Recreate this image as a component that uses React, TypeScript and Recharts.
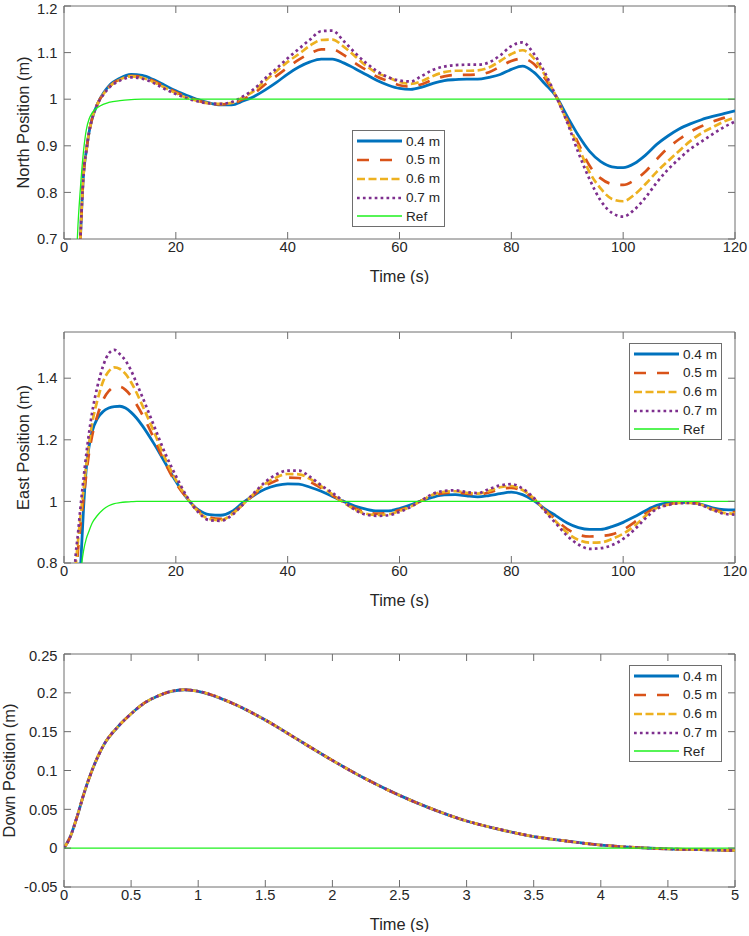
import React from 'react';
import { LineChart, Line, XAxis, YAxis, Legend, ReferenceArea } from 'recharts';

// ---- North position (top panel), time in s ----
const northTime = [
  0, 1, 2, 2.5, 3, 3.5, 4, 4.5, 5, 6, 7, 8,
  10, 12, 14, 16, 18, 20, 22, 24, 26, 28, 30, 32,
  34, 36, 38, 40, 42, 44, 46, 48, 50, 52, 54, 56,
  58, 60, 62, 64, 66, 68, 70, 72, 74, 76, 78, 80,
  82, 84, 86, 88, 90, 92, 94, 96, 98, 100, 102, 104,
  106, 108, 110, 112, 114, 116, 118, 120,
];
const north04 = [
  0, 0.1, 0.4, 0.56, 0.72, 0.84, 0.89, 0.93, 0.957, 0.99, 1.012, 1.028,
  1.045, 1.053, 1.051, 1.042, 1.03, 1.018, 1.008, 0.999, 0.992, 0.988, 0.988, 0.996,
  1.006, 1.02, 1.036, 1.054, 1.069, 1.08, 1.086, 1.086, 1.078, 1.066, 1.053, 1.04,
  1.03, 1.023, 1.021, 1.026, 1.034, 1.04, 1.042, 1.043, 1.043, 1.047, 1.053, 1.064,
  1.071, 1.058, 1.033, 1.006, 0.963, 0.922, 0.888, 0.866, 0.855, 0.853, 0.862, 0.88,
  0.903, 0.921, 0.936, 0.947, 0.956, 0.963, 0.969, 0.975,
];
const north05 = [
  0, 0.1, 0.4, 0.56, 0.72, 0.84, 0.89, 0.93, 0.957, 0.99, 1.011, 1.026,
  1.043, 1.05, 1.048, 1.039, 1.027, 1.015, 1.005, 0.997, 0.991, 0.989, 0.99, 1.0,
  1.013, 1.032, 1.05, 1.068, 1.085, 1.098, 1.107, 1.107, 1.095, 1.078, 1.063, 1.048,
  1.039, 1.03, 1.027, 1.032, 1.042, 1.049, 1.052, 1.052, 1.053, 1.058, 1.07, 1.082,
  1.087, 1.076, 1.045, 1.006, 0.956, 0.905, 0.857, 0.83, 0.818, 0.816, 0.826, 0.845,
  0.871, 0.895, 0.914, 0.93, 0.942, 0.952, 0.96, 0.967,
];
const north06 = [
  0, 0.1, 0.4, 0.56, 0.72, 0.84, 0.89, 0.93, 0.957, 0.99, 1.01, 1.025,
  1.042, 1.049, 1.046, 1.037, 1.025, 1.013, 1.003, 0.996, 0.991, 0.99, 0.992, 1.004,
  1.018, 1.04, 1.06, 1.08, 1.097, 1.115, 1.127, 1.128, 1.113, 1.093, 1.072, 1.056,
  1.047, 1.037, 1.033, 1.039, 1.05, 1.058, 1.061, 1.061, 1.062, 1.068, 1.082, 1.097,
  1.105, 1.088, 1.052, 1.006, 0.952, 0.898, 0.843, 0.808, 0.786, 0.781, 0.795, 0.818,
  0.844, 0.867, 0.889, 0.91, 0.927, 0.94, 0.952, 0.961,
];
const north07 = [
  0, 0.1, 0.4, 0.56, 0.72, 0.84, 0.89, 0.93, 0.957, 0.99, 1.009, 1.024,
  1.04, 1.047, 1.044, 1.035, 1.022, 1.011, 1.002, 0.995, 0.991, 0.99, 0.994, 1.006,
  1.022, 1.045, 1.066, 1.088, 1.108, 1.128, 1.146, 1.147, 1.125, 1.1, 1.078, 1.06,
  1.047, 1.04, 1.038, 1.05, 1.063, 1.07, 1.073, 1.074, 1.074, 1.079, 1.094, 1.114,
  1.122, 1.098, 1.057, 1.006, 0.95, 0.885, 0.828, 0.782, 0.756, 0.748, 0.763, 0.789,
  0.821, 0.849, 0.872, 0.893, 0.909, 0.925, 0.94, 0.952,
];
const northRefTime = [0, 1, 2, 2.5, 3, 3.5, 4, 4.5, 5, 6, 7, 8, 10, 12, 14, 120];
const northRef = [0, 0.25, 0.6, 0.73, 0.82, 0.89, 0.935, 0.958, 0.97, 0.982, 0.989, 0.993, 0.997, 0.999, 1, 1];

// ---- East position (middle panel) ----
const eastTime = [
  0, 1, 2, 2.5, 3, 3.5, 4, 4.5, 5,
  6, 7, 8, 9, 10, 11, 12, 13, 14,
  16, 18, 20, 22, 24, 26, 28, 30, 32, 34, 36, 38,
  40, 42, 44, 46, 48, 50, 52, 54, 56, 58, 60, 62,
  64, 66, 68, 70, 72, 74, 76, 78, 80, 82, 84, 86,
  88, 90, 92, 94, 96, 98, 100, 102, 104, 106, 108, 110,
  112, 114, 116, 118, 120,
];
const east04 = [
  0, 0.15, 0.5, 0.65, 0.8, 0.98, 1.11, 1.18, 1.225,
  1.27, 1.292, 1.303, 1.308, 1.309, 1.303, 1.289, 1.27, 1.246,
  1.19, 1.128, 1.065, 1.01, 0.973, 0.957, 0.955, 0.967, 0.996, 1.02, 1.04, 1.052,
  1.057, 1.056, 1.046, 1.033, 1.016, 1.0, 0.985, 0.975, 0.969, 0.969, 0.977, 0.989,
  1.003, 1.014, 1.021, 1.022, 1.018, 1.015, 1.019, 1.025, 1.03, 1.022, 1.003, 0.976,
  0.953, 0.93, 0.915, 0.909, 0.909, 0.918, 0.932, 0.95, 0.97, 0.987, 0.995, 0.997,
  0.996, 0.99, 0.979, 0.973, 0.972,
];
const east05 = [
  0, 0.18, 0.7, 0.84, 0.93, 1.01, 1.09, 1.16, 1.21,
  1.28, 1.33, 1.358, 1.371, 1.372, 1.362, 1.342, 1.314, 1.282,
  1.208, 1.128, 1.06, 1.01, 0.97, 0.948, 0.943, 0.96, 0.99, 1.022, 1.05, 1.068,
  1.077, 1.076, 1.063, 1.043, 1.02, 0.997, 0.978, 0.965, 0.96, 0.962, 0.972, 0.985,
  1.003, 1.019, 1.027, 1.029, 1.025, 1.022, 1.029, 1.04, 1.044, 1.033, 1.008, 0.972,
  0.94, 0.91, 0.892, 0.886, 0.888, 0.893, 0.908, 0.932, 0.96, 0.982, 0.99, 0.996,
  0.996, 0.99, 0.975, 0.967, 0.965,
];
const east06 = [
  0, 0.19, 0.76, 0.87, 0.96, 1.04, 1.12, 1.19, 1.25,
  1.33, 1.39, 1.422, 1.435, 1.43, 1.414, 1.387, 1.352, 1.312,
  1.23, 1.143, 1.07, 1.012, 0.967, 0.943, 0.939, 0.958, 0.99, 1.025, 1.057, 1.078,
  1.089, 1.088, 1.073, 1.049, 1.023, 0.996, 0.974, 0.96, 0.956, 0.958, 0.969, 0.983,
  1.003, 1.022, 1.031, 1.033, 1.028, 1.025, 1.034, 1.046, 1.05, 1.037, 1.01, 0.97,
  0.934, 0.898, 0.875, 0.866, 0.867, 0.878, 0.895, 0.92, 0.953, 0.979, 0.989, 0.995,
  0.995, 0.989, 0.973, 0.963, 0.96,
];
const east07 = [
  0, 0.2, 0.8, 0.895, 0.99, 1.075, 1.155, 1.225, 1.285,
  1.375, 1.44, 1.48, 1.492, 1.478, 1.457, 1.425, 1.383, 1.34,
  1.25, 1.16, 1.083, 1.015, 0.965, 0.939, 0.937, 0.955, 0.99, 1.028, 1.063, 1.088,
  1.1, 1.1, 1.08, 1.052, 1.028, 1.0, 0.973, 0.957, 0.953, 0.955, 0.966, 0.982,
  1.004, 1.025, 1.034, 1.036, 1.03, 1.027, 1.04, 1.052, 1.056, 1.042, 1.012, 0.968,
  0.928, 0.888, 0.86, 0.846, 0.848, 0.858, 0.878, 0.908, 0.945, 0.976, 0.988, 0.994,
  0.995, 0.988, 0.972, 0.96, 0.957,
];
const eastRefTime = [0, 1, 2, 2.5, 3, 3.5, 4, 4.5, 5, 6, 7, 8, 9, 10, 11, 12, 13, 120];
const eastRef = [0, 0.2, 0.5, 0.65, 0.77, 0.84, 0.88, 0.905, 0.928, 0.955, 0.974, 0.986, 0.993, 0.996, 0.998, 0.999, 1, 1];

// ---- Down position (bottom panel), all four runs coincide ----
const downTime = [
  0, 0.05, 0.1, 0.15, 0.2, 0.25, 0.3, 0.4, 0.5, 0.6, 0.7, 0.8, 0.9, 1,
  1.25, 1.5, 1.75, 2, 2.25, 2.5, 2.75, 3, 3.25, 3.5, 3.75, 4, 4.25, 4.5, 4.75, 5,
];
const downPos = [
  0, 0.016, 0.042, 0.071, 0.096, 0.117, 0.134, 0.156, 0.173, 0.187, 0.196, 0.202, 0.204, 0.202,
  0.187, 0.165, 0.139, 0.113, 0.089, 0.068, 0.05, 0.035, 0.024, 0.015, 0.009, 0.004, 0.001, -0.001, -0.002, -0.003,
];
const downRefTime = [0, 5];
const downRef = [0, 0];

// axis ticks
const timeTicks = [0, 20, 40, 60, 80, 100, 120];
const downTimeTicks = [0, 0.5, 1, 1.5, 2, 2.5, 3, 3.5, 4, 4.5, 5];
const northTicks = [0.7, 0.8, 0.9, 1, 1.1, 1.2];
const eastTicks = [0.8, 1, 1.2, 1.4];
const downTicks = [-0.05, 0, 0.05, 0.1, 0.15, 0.2, 0.25];

const SERIES = [
  { key: 's04', name: '0.4 m', color: '#0072BD', width: 2.8, dash: undefined as string | undefined },
  { key: 's05', name: '0.5 m', color: '#D95319', width: 2.7, dash: '12 11' },
  { key: 's06', name: '0.6 m', color: '#EDB120', width: 2.7, dash: '8 3.5' },
  { key: 's07', name: '0.7 m', color: '#7E2F8E', width: 2.7, dash: '2.7 3.2' },
];
const REF = { key: 'ref', name: 'Ref', color: '#1EF01E', width: 1.3, dash: undefined as string | undefined };

const FONT = '"Liberation Sans", Arial, Helvetica, sans-serif';
const TEXT = '#262626';
const AXIS = '#6e6e6e';
const TICK = 7;
const PLOT_W = 671;

const northRows = northTime.map((t, i) => ({ t, s04: north04[i], s05: north05[i], s06: north06[i], s07: north07[i] }));
const northRefRows = northRefTime.map((t, i) => ({ t, ref: northRef[i] }));
const eastRows = eastTime.map((t, i) => ({ t, s04: east04[i], s05: east05[i], s06: east06[i], s07: east07[i] }));
const eastRefRows = eastRefTime.map((t, i) => ({ t, ref: eastRef[i] }));
const downRows = downTime.map((t, i) => ({ t, s04: downPos[i], s05: downPos[i], s06: downPos[i], s07: downPos[i] }));
const downRefRows = downRefTime.map((t, i) => ({ t, ref: downRef[i] }));

// inward ticks on bottom and top edges, label under the axis
const XTick = (props: any) => {
  const { x, y, payload, plotH } = props;
  return (
    <g>
      <line x1={x} y1={y} x2={x} y2={y - TICK} stroke={AXIS} />
      <line x1={x} y1={y - plotH} x2={x} y2={y - plotH + TICK} stroke={AXIS} />
      <text x={x} y={y + 13} textAnchor="middle" fontSize={14.7} fill={TEXT} fontFamily={FONT}>
        {String(payload.value)}
      </text>
    </g>
  );
};

// inward ticks on left and right edges; the top label is kept inside the page
const YTick = (props: any) => {
  const { x, y, payload } = props;
  const ty = Math.max(y + 5.2, 14);
  return (
    <g>
      <line x1={x} y1={y} x2={x + TICK} y2={y} stroke={AXIS} />
      <line x1={x + PLOT_W} y1={y} x2={x + PLOT_W - TICK} y2={y} stroke={AXIS} />
      <text x={x - 6.5} y={ty} textAnchor="end" fontSize={14.7} fill={TEXT} fontFamily={FONT}>
        {String(payload.value)}
      </text>
    </g>
  );
};

const LegendBox = () => (
  <div
    style={{
      width: 93,
      height: 97,
      boxSizing: 'border-box',
      border: `1px solid ${AXIS}`,
      background: '#fff',
      padding: '1px 0 0 4px',
      fontFamily: FONT,
    }}
  >
    {[...SERIES, REF].map((s) => (
      <div key={s.key} style={{ display: 'flex', alignItems: 'center', height: 18.75 }}>
        <svg width={45} height={6} style={{ display: 'block' }}>
          <line x1={0} y1={3} x2={45} y2={3} stroke={s.color} strokeWidth={s.width} strokeDasharray={s.dash} />
        </svg>
        <span style={{ marginLeft: 4, fontSize: 13.6, color: TEXT, lineHeight: '1' }}>{s.name}</span>
      </div>
    ))}
  </div>
);

type PanelProps = {
  top: number;
  marginTop: number;
  plotH: number;
  rows: any[];
  refRows: any[];
  xMax: number;
  xTicks: number[];
  yDomain: [number, number];
  yTicks: number[];
  yTitle: string;
  yTitleX: number;
  legendLeft: number;
  legendTop: number;
};

const Panel = ({ top, marginTop, plotH, rows, refRows, xMax, xTicks, yDomain, yTicks, yTitle, yTitleX, legendLeft, legendTop }: PanelProps) => {
  const xTitle = (p: any) => {
    const vb = p.viewBox || p;
    return (
      <text x={vb.x + vb.width / 2} y={vb.y + 43} textAnchor="middle" fontSize={16.4} fill={TEXT} fontFamily={FONT}>
        Time (s)
      </text>
    );
  };
  const yLabel = (p: any) => {
    const vb = p.viewBox || p;
    const cy = vb.y + vb.height / 2;
    return (
      <text x={yTitleX} y={cy} transform={`rotate(-90 ${yTitleX} ${cy})`} textAnchor="middle" fontSize={16.4} fill={TEXT} fontFamily={FONT}>
        {yTitle}
      </text>
    );
  };
  return (
    <div style={{ position: 'absolute', left: 0, top }}>
      <LineChart width={749} height={marginTop + plotH + 45} data={rows} margin={{ top: marginTop, right: 14, bottom: 0, left: 0 }}>
        <XAxis
          type="number"
          dataKey="t"
          domain={[0, xMax]}
          ticks={xTicks}
          interval={0}
          allowDataOverflow
          height={45}
          tickSize={0}
          tickMargin={0}
          axisLine={false}
          tickLine={false}
          tick={<XTick plotH={plotH} />}
          label={xTitle}
        />
        <YAxis
          type="number"
          domain={yDomain}
          ticks={yTicks}
          interval={0}
          allowDataOverflow
          width={64}
          tickSize={0}
          tickMargin={0}
          axisLine={false}
          tickLine={false}
          tick={<YTick />}
          label={yLabel}
        />
        <ReferenceArea x1={0} x2={xMax} y1={yDomain[0]} y2={yDomain[1]} fill="none" fillOpacity={0} stroke={AXIS} strokeWidth={1} />
        {SERIES.map((s) => (
          <Line
            key={s.key}
            type="monotone"
            dataKey={s.key}
            stroke={s.color}
            strokeWidth={s.width}
            strokeDasharray={s.dash}
            dot={false}
            activeDot={false}
            isAnimationActive={false}
          />
        ))}
        <Line
          data={refRows}
          type="monotone"
          dataKey="ref"
          stroke={REF.color}
          strokeWidth={REF.width}
          dot={false}
          activeDot={false}
          isAnimationActive={false}
        />
        <Legend
          layout="vertical"
          align="center"
          verticalAlign="middle"
          content={<LegendBox />}
          wrapperStyle={{ left: legendLeft, top: legendTop, width: 93 }}
        />
      </LineChart>
    </div>
  );
};

export default function App() {
  return (
    <div style={{ position: 'absolute', left: 0, top: 0, width: 749, height: 936, background: '#fff', overflow: 'hidden' }}>
      <Panel
        top={0}
        marginTop={6}
        plotH={233}
        rows={northRows}
        refRows={northRefRows}
        xMax={120}
        xTicks={timeTicks}
        yDomain={[0.7, 1.2]}
        yTicks={northTicks}
        yTitle="North Position (m)"
        yTitleX={29}
        legendLeft={352}
        legendTop={130}
      />
      <Panel
        top={325}
        marginTop={7}
        plotH={231}
        rows={eastRows}
        refRows={eastRefRows}
        xMax={120}
        xTicks={timeTicks}
        yDomain={[0.8, 1.55]}
        yTicks={eastTicks}
        yTitle="East Position (m)"
        yTitleX={29}
        legendLeft={629}
        legendTop={18}
      />
      <Panel
        top={647}
        marginTop={7}
        plotH={233}
        rows={downRows}
        refRows={downRefRows}
        xMax={5}
        xTicks={downTimeTicks}
        yDomain={[-0.05, 0.25]}
        yTicks={downTicks}
        yTitle="Down Position (m)"
        yTitleX={15}
        legendLeft={629}
        legendTop={18}
      />
    </div>
  );
}
